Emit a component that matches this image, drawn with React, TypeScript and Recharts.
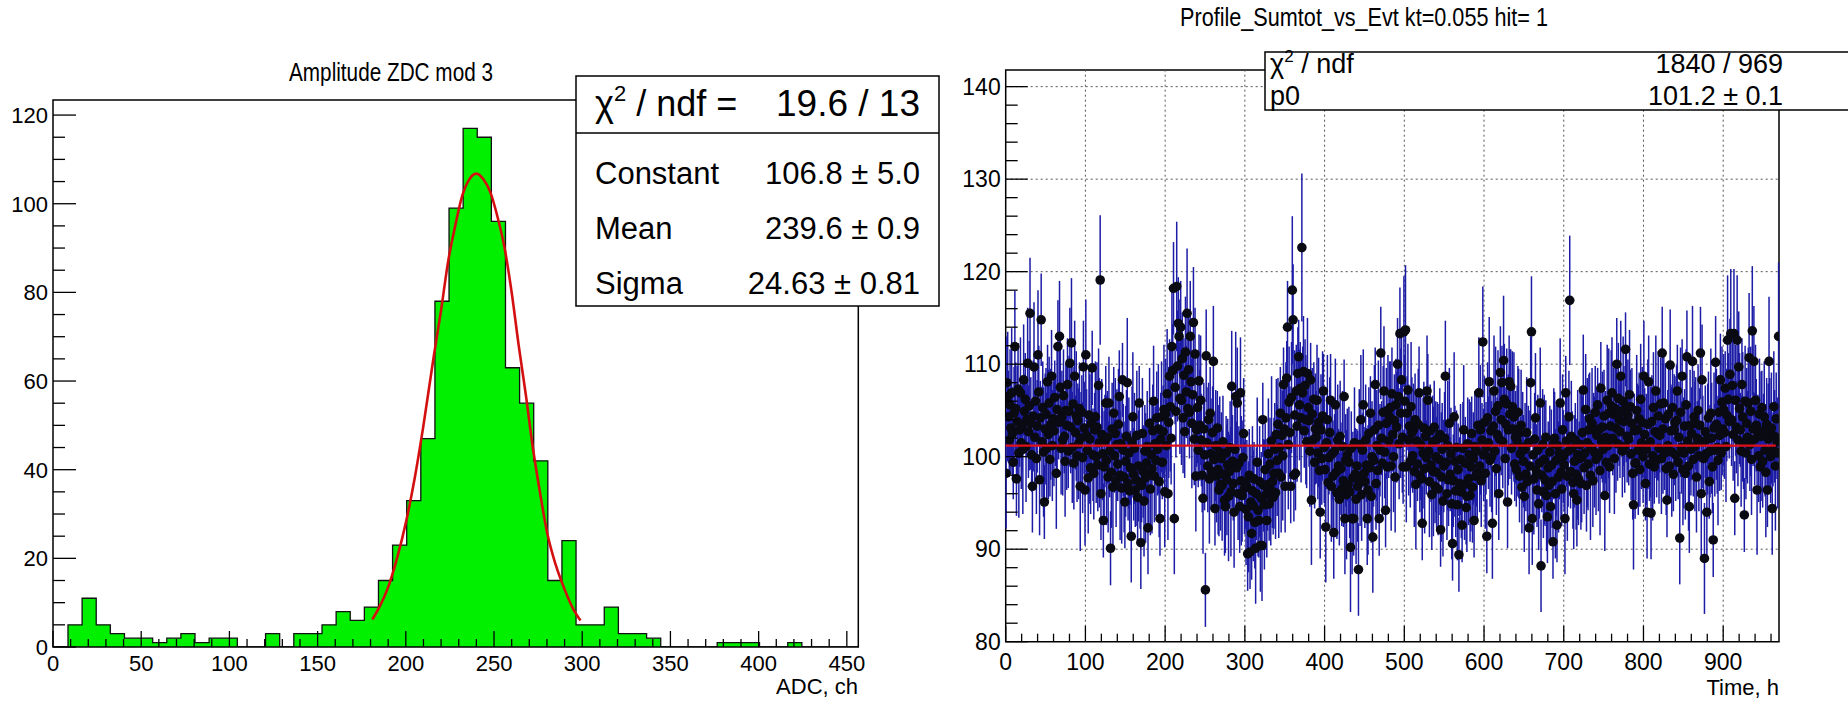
import React from "react";
import {
  ComposedChart,
  Area,
  Line,
  Scatter,
  ErrorBar,
  XAxis,
  YAxis,
  ReferenceLine,
  ReferenceArea,
} from "recharts";

const FONT = "'Liberation Sans', Arial, Helvetica, sans-serif";

// ---- left pad: Amplitude ZDC mod 3 ----
const ZDC_BIN_START = 0.5;
const ZDC_BIN_WIDTH = 8;
const ZDC_COUNTS = [
  0, 5, 11, 5, 3, 2, 2, 1, 2, 3,
  1, 2, 2, 0, 0, 3, 0, 3, 3, 5,
  8, 6, 9, 15, 23, 33, 47, 78, 99, 117,
  115, 96, 63, 55, 42, 15, 24, 5, 5, 9,
  3, 3, 2, 0, 0, 0, 0, 1, 1, 1,
  0, 0, 1, 0, 0, 0, 0,
];
// red gaussian fit curve
const FIT_X = [181, 185, 190, 195, 200, 205, 210, 216, 220, 224, 228, 232, 236, 240, 244, 248, 252, 256, 260, 264, 268, 272, 276, 280, 285, 290, 295, 299];
const FIT_Y = [6.2, 9, 13.5, 20, 28, 38, 50, 66, 76, 87, 95, 101.8, 105.5, 106.8, 105.5, 102.5, 97, 90, 80, 68, 57, 45, 35, 26, 18.5, 13, 8.5, 6];
const LEFT_X_TICKS = [0, 10, 20, 30, 40, 50, 60, 70, 80, 90, 100, 110, 120, 130, 140, 150, 160, 170, 180, 190, 200, 210, 220, 230, 240, 250, 260, 270, 280, 290, 300, 310, 320, 330, 340, 350, 360, 370, 380, 390, 400, 410, 420, 430, 440, 450];
const LEFT_Y_TICKS = [0, 5, 10, 15, 20, 25, 30, 35, 40, 45, 50, 55, 60, 65, 70, 75, 80, 85, 90, 95, 100, 105, 110, 115, 120];
const LEFT_STATS = [
  ["Constant", "106.8 \u00b1 5.0"],
  ["Mean", "239.6 \u00b1 0.9"],
  ["Sigma", "24.63 \u00b1 0.81"],
];

// ---- right pad: Profile_Sumtot_vs_Evt ----
const PROFILE = [
  98.2, 108.0, 106.5, 104.3, 101.8, 105.6, 103.1, 106.9, 102.5, 99.4,
  104.7, 111.9, 105.2, 97.6, 103.8, 107.3, 100.4, 102.9, 106.9, 101.5,
  103.4, 100.8, 108.3, 104.9, 106.2, 101.1, 104.0, 110.1, 102.7, 105.5,
  115.5, 103.6, 100.2, 96.8, 104.4, 109.7, 102.1, 106.0, 99.8, 103.3,
  111.0, 107.0, 97.5, 104.2, 114.8, 101.6, 105.3, 100.5, 95.1, 103.0,
  104.6, 100.9, 108.1, 102.4, 105.8, 99.7, 103.5, 108.7, 101.2, 104.1,
  102.8, 106.4, 104.0, 98.2, 105.1, 111.9, 103.7, 113.0, 107.5, 100.9,
  104.3, 101.8, 106.6, 102.2, 99.5, 105.0, 103.4, 107.8, 100.6, 104.9,
  110.1, 103.2, 112.3, 101.0, 105.7, 99.3, 108.7, 102.6, 104.4, 100.1,
  103.9, 101.4, 105.2, 96.8, 102.0, 104.8, 99.9, 109.7, 103.1, 96.4,
  111.0, 102.3, 100.7, 97.7, 104.5, 101.9, 98.8, 103.6, 109.6, 100.2,
  98.2, 102.9, 104.3, 100.0, 103.2, 99.1, 107.7, 101.5, 119.1, 96.0,
  102.4, 100.3, 93.1, 98.9, 101.7, 105.8, 99.6, 102.1, 97.8, 105.8,
  100.6, 90.1, 98.3, 103.0, 96.7, 104.7, 100.1, 102.5, 97.4, 101.3,
  99.2, 103.5, 106.5, 98.0, 101.4, 96.6, 108.3, 100.7, 97.8, 95.1,
  99.5, 102.2, 108.0, 97.1, 100.4, 96.3, 98.8, 91.4, 101.6, 104.3,
  98.1, 100.9, 96.4, 97.5, 102.3, 95.6, 99.0, 105.8, 97.2, 90.7,
  96.9, 102.5, 98.4, 95.2, 100.6, 97.7, 99.3, 101.1, 92.3, 98.0,
  103.6, 96.5, 100.2, 98.7, 102.8, 106.0, 97.9, 101.4, 99.6, 104.2,
  100.8, 103.0, 97.3, 93.3, 101.9, 104.3, 99.4, 102.7, 105.1, 96.2,
  104.6, 101.2, 106.8, 96.0, 103.7, 108.7, 105.4, 102.0, 111.9, 109.3,
  118.2, 93.3, 107.5, 104.9, 118.4, 109.8, 114.4, 113.0, 106.3, 114.0,
  106.1, 110.6, 104.2, 108.8, 102.7, 111.3, 107.0, 115.5, 105.2, 109.4,
  104.8, 113.0, 108.1, 103.6, 106.7, 114.5, 101.9, 111.1, 97.9, 102.9,
  105.3, 100.7, 108.2, 103.4, 106.1, 101.8, 98.0, 95.5, 103.0, 100.2,
  85.6, 110.9, 101.5, 99.0, 104.0, 97.6, 104.7, 100.3, 98.4, 102.6,
  110.3, 99.7, 94.4, 101.2, 97.9, 103.1, 98.6, 96.4, 100.5, 97.0,
  99.8, 96.9, 101.6, 98.1, 95.3, 94.6, 100.4, 97.5, 99.1, 95.7,
  98.4, 101.0, 96.2, 107.6, 99.5, 97.1, 94.0, 100.8, 106.5, 98.8,
  105.8, 96.0, 99.3, 94.6, 106.9, 97.4, 95.8, 99.9, 102.5, 96.6,
  97.2, 94.3, 96.8, 89.5, 93.5, 98.0, 89.7, 95.1, 91.7, 96.3,
  94.7, 97.6, 92.9, 90.1, 96.0, 99.4, 94.2, 93.1, 97.3, 90.4,
  95.5, 90.4, 104.0, 96.9, 94.8, 98.6, 95.9, 93.1, 97.0, 100.3,
  94.9, 99.2, 96.4, 101.7, 97.3, 95.6, 98.2, 100.8, 96.1, 102.4,
  99.6, 103.5, 98.2, 101.0, 104.7, 97.8, 102.3, 100.1, 107.8, 103.0,
  96.8, 104.2, 108.5, 114.0, 101.3, 105.9, 102.6, 96.8, 106.4, 118.0,
  114.8, 98.0, 104.5, 98.2, 107.1, 103.3, 109.0, 110.8, 105.6, 107.4,
  104.2, 122.6, 106.9, 109.2, 102.8, 107.7, 104.0, 101.6, 109.0, 105.3,
  103.9, 100.6, 108.3, 95.3, 104.6, 101.8, 106.2, 99.4, 103.0, 102.1,
  106.1, 100.4, 103.7, 98.5, 94.0, 102.9, 99.8, 104.4, 107.1, 101.0,
  98.6, 92.4, 101.5, 104.0, 97.2, 99.9, 102.6, 106.1, 96.8, 100.3,
  97.9, 91.8, 100.6, 105.6, 98.3, 96.1, 101.8, 99.0, 95.4, 102.2,
  98.7, 96.5, 101.1, 97.4, 106.5, 93.3, 99.6, 95.9, 100.2, 97.0,
  99.4, 96.2, 90.2, 100.9, 93.3, 97.7, 93.3, 101.5, 98.1, 95.4,
  99.0, 96.8, 87.8, 101.3, 97.5, 104.0, 95.9, 100.7, 105.6, 98.2,
  97.3, 101.8, 99.1, 93.3, 96.4, 102.5, 98.8, 104.7, 95.7, 100.0,
  91.3, 99.6, 102.9, 107.8, 97.1, 101.2, 98.5, 103.4, 93.3, 100.7,
  111.2, 102.0, 99.3, 104.8, 107.1, 100.5, 94.2, 103.6, 98.9, 105.0,
  101.7, 104.3, 105.3, 99.0, 106.8, 102.4, 100.0, 103.9, 97.8, 105.6,
  103.2, 110.0, 106.5, 101.4, 113.3, 104.7, 108.3, 102.1, 98.9, 113.5,
  106.0, 113.7, 98.9, 104.7, 107.2, 101.8, 103.3, 99.5, 105.4, 102.6,
  100.1, 102.9, 98.4, 104.0, 97.0, 101.7, 99.2, 103.5, 106.9, 98.0,
  101.3, 97.6, 92.8, 100.4, 103.1, 98.7, 102.2, 99.9, 107.1, 106.1,
  100.6, 97.3, 102.8, 99.1, 95.9, 101.6, 98.4, 103.2, 96.8, 100.0,
  98.3, 101.9, 96.5, 99.7, 102.4, 92.1, 97.8, 100.8, 95.2, 99.0,
  102.0, 108.7, 99.4, 96.0, 101.2, 97.5, 103.6, 98.1, 100.3, 94.9,
  90.6, 97.4, 104.3, 99.5, 96.3, 101.0, 94.8, 98.6, 89.4, 97.1,
  99.7, 96.2, 92.6, 100.9, 102.9, 97.0, 99.3, 94.5, 95.7, 101.4,
  97.6, 100.2, 95.8, 98.9, 102.5, 96.7, 99.8, 93.1, 101.1, 97.9,
  100.6, 98.2, 103.4, 106.9, 99.0, 102.9, 97.4, 101.8, 112.4, 100.2,
  103.7, 98.2, 100.9, 91.4, 104.2, 101.5, 108.1, 99.6, 102.8, 100.0,
  92.8, 103.3, 107.1, 100.6, 104.9, 98.7, 102.4, 105.5, 96.0, 101.9,
  109.1, 104.0, 108.0, 101.6, 110.4, 106.2, 99.8, 103.5, 105.7, 95.1,
  102.9, 108.1, 104.6, 107.6, 100.9, 105.4, 103.0, 104.3, 99.2, 102.1,
  98.6, 101.7, 104.8, 102.5, 97.9, 100.3, 103.4, 96.7, 101.0, 99.5,
  95.7, 100.8, 98.1, 102.6, 97.3, 101.5, 92.3, 99.0, 108.0, 113.5,
  93.3, 100.2, 97.6, 101.9, 104.2, 98.5, 96.4, 100.7, 94.9, 99.3,
  105.8, 88.2, 98.0, 101.3, 96.2, 99.7, 97.5, 102.1, 95.8, 93.5,
  98.8, 96.9, 100.5, 94.6, 99.1, 97.3, 90.8, 101.4, 102.0, 96.0,
  99.6, 92.6, 101.2, 97.8, 100.4, 105.8, 98.3, 96.5, 102.9, 100.0,
  99.1, 93.3, 106.9, 101.7, 97.9, 100.6, 104.3, 116.9, 98.4, 102.2,
  100.9, 97.2, 96.0, 99.5, 101.8, 98.1, 95.3, 100.2, 97.6, 99.8,
  101.3, 97.1, 99.9, 102.6, 107.2, 98.8, 100.4, 105.1, 96.9, 101.5,
  99.2, 102.9, 104.1, 98.0, 101.0, 103.6, 97.4, 102.9, 100.5, 104.8,
  99.7, 102.3, 105.6, 100.1, 103.0, 98.5, 107.4, 101.6, 103.2, 100.8,
  104.4, 95.8, 102.1, 99.4, 106.1, 101.2, 104.7, 98.9, 103.3, 105.5,
  106.9, 102.0, 104.6, 99.8, 105.2, 103.1, 110.0, 101.4, 106.3, 104.0,
  102.7, 108.7, 104.9, 100.6, 106.0, 103.8, 101.1, 111.6, 105.4, 102.2,
  104.5, 101.9, 106.7, 105.4, 100.3, 103.6, 98.2, 94.8, 102.8, 99.3,
  99.3, 105.0, 102.9, 100.7, 104.1, 98.6, 106.2, 101.5, 103.7, 100.0,
  108.7, 102.4, 97.1, 100.8, 94.0, 103.5, 108.1, 99.2, 101.6, 93.9,
  103.8, 100.1, 105.3, 98.9, 102.7, 107.1, 99.6, 102.5, 104.4, 100.9,
  102.3, 105.7, 99.8, 111.2, 103.0, 105.8, 100.4, 104.1, 98.7, 95.3,
  101.2, 104.6, 99.0, 109.9, 102.8, 100.5, 105.3, 98.1, 102.9, 103.7,
  100.2, 103.9, 107.1, 99.4, 102.1, 91.2, 104.8, 101.0, 108.7, 98.6,
  100.4, 103.3, 98.2, 105.6, 110.8, 101.7, 99.0, 94.6, 103.4, 100.8,
  102.5, 110.3, 99.7, 104.3, 101.1, 103.6, 97.8, 102.0, 105.0, 100.1,
  103.4, 111.2, 96.0, 108.3, 101.6, 99.8, 89.0, 102.7, 100.3, 94.0,
  101.9, 104.2, 97.3, 100.6, 104.7, 102.0, 98.9, 91.0, 103.1, 100.7,
  110.2, 103.5, 101.0, 99.6, 104.8, 102.3, 108.3, 100.4, 105.9, 103.0,
  105.1, 102.6, 107.4, 101.1, 104.5, 112.6, 106.2, 103.8, 108.9, 113.3,
  104.0, 107.7, 102.4, 113.3, 95.5, 106.1, 103.2, 112.6, 101.8, 109.7,
  105.2, 102.9, 100.6, 107.8, 104.3, 101.5, 93.7, 106.0, 100.4, 103.6,
  102.1, 105.8, 110.7, 101.3, 104.9, 99.7, 113.6, 103.0, 110.3, 101.9,
  106.1, 103.4, 96.4, 102.7, 100.1, 104.6, 98.9, 102.2, 105.3, 99.5,
  102.8, 104.3, 100.7, 98.3, 103.5, 96.4, 101.9, 110.3, 102.5, 100.0,
  103.1, 94.4, 100.8, 105.4, 102.2, 99.0, 104.1, 101.6, 100.4, 113.0,
];
const PROFILE_ERR = [
  6, 5, 7, 5, 4, 6, 5, 7, 5, 4, 5, 6, 5, 4, 6, 5, 7, 4, 6, 5,
  5, 7, 6, 4, 5, 6, 4, 6, 5, 7, 6, 5, 4, 5, 6, 7, 5, 4, 6, 5,
  7, 5, 6, 4, 5, 6, 5, 7, 4, 6, 5, 6, 4, 7, 5, 4, 6, 5, 6, 4,
  6, 4, 5, 6, 7, 5, 4, 6, 5, 5, 5, 6, 5, 4, 6, 5, 7, 5, 4, 6,
  6, 5, 7, 6, 4, 5, 6, 4, 7, 5, 4, 6, 5, 7, 5, 4, 6, 5, 5, 6,
  6, 5, 4, 6, 5, 7, 5, 6, 4, 5, 5, 4, 6, 5, 7, 5, 4, 7, 7, 5,
  6, 5, 4, 6, 5, 4, 7, 5, 6, 5, 5, 4, 6, 5, 7, 5, 4, 6, 5, 6,
  4, 6, 5, 7, 5, 6, 4, 5, 6, 5, 6, 5, 7, 4, 6, 5, 4, 5, 6, 7,
  5, 6, 4, 5, 7, 5, 6, 4, 5, 5, 4, 6, 5, 6, 5, 7, 4, 6, 5, 6,
  6, 5, 4, 7, 5, 6, 5, 4, 6, 5, 5, 7, 6, 4, 5, 6, 4, 5, 7, 6,
  6, 5, 7, 5, 6, 4, 7, 5, 6, 5, 5, 6, 4, 5, 7, 6, 5, 4, 6, 5,
  7, 5, 6, 4, 5, 6, 5, 7, 4, 6, 5, 6, 5, 7, 4, 6, 5, 5, 6, 4,
  6, 4, 5, 6, 7, 5, 4, 6, 5, 6, 4, 5, 6, 5, 4, 7, 5, 6, 4, 5,
  6, 5, 4, 6, 5, 4, 7, 5, 6, 5, 5, 6, 5, 4, 6, 5, 4, 6, 5, 7,
  4, 5, 7, 6, 5, 4, 6, 5, 7, 5, 6, 5, 4, 5, 6, 7, 5, 4, 6, 5,
  5, 6, 5, 4, 6, 5, 4, 6, 5, 7, 6, 4, 5, 6, 5, 7, 5, 4, 6, 5,
  5, 6, 4, 5, 7, 5, 6, 4, 5, 6, 4, 5, 6, 7, 5, 4, 6, 5, 5, 6,
  6, 5, 7, 4, 5, 6, 5, 7, 4, 5, 5, 6, 4, 5, 7, 6, 5, 4, 6, 8,
  6, 5, 7, 4, 5, 6, 5, 4, 6, 5, 7, 8, 5, 6, 4, 5, 7, 5, 6, 4,
  5, 6, 4, 7, 5, 6, 4, 5, 6, 5, 6, 5, 7, 4, 5, 6, 5, 7, 4, 6,
  4, 6, 5, 7, 5, 4, 6, 5, 6, 5, 6, 5, 4, 5, 7, 5, 6, 4, 5, 6,
  5, 4, 6, 5, 4, 6, 5, 7, 5, 4, 6, 5, 7, 4, 6, 5, 4, 6, 5, 7,
  4, 6, 5, 6, 5, 7, 5, 4, 6, 5, 5, 6, 4, 5, 7, 5, 6, 4, 5, 6,
  6, 5, 7, 4, 5, 6, 5, 7, 4, 5, 5, 4, 6, 5, 7, 5, 4, 6, 5, 6,
  4, 6, 5, 7, 5, 4, 6, 5, 6, 5, 6, 5, 4, 6, 5, 7, 5, 6, 4, 6,
  5, 7, 6, 4, 5, 6, 4, 5, 7, 6, 4, 5, 6, 5, 7, 5, 4, 6, 5, 4,
  6, 5, 4, 6, 5, 7, 5, 4, 6, 5, 5, 6, 5, 4, 6, 5, 7, 5, 4, 6,
  6, 4, 5, 6, 5, 4, 7, 5, 6, 5, 5, 6, 4, 5, 7, 5, 6, 4, 5, 6,
  4, 5, 7, 6, 5, 4, 6, 5, 4, 5, 6, 5, 4, 5, 7, 6, 5, 4, 6, 5,
  5, 6, 5, 7, 4, 6, 5, 4, 6, 5, 6, 5, 4, 6, 5, 7, 5, 4, 6, 5,
  5, 6, 5, 4, 6, 5, 7, 5, 4, 6, 6, 4, 6, 5, 7, 5, 4, 6, 5, 6,
  5, 6, 4, 5, 7, 6, 5, 4, 6, 5, 6, 5, 7, 4, 5, 6, 5, 7, 4, 5,
  4, 6, 5, 7, 5, 4, 6, 5, 6, 5, 6, 5, 4, 6, 5, 4, 5, 6, 5, 6,
  5, 4, 6, 5, 7, 5, 4, 6, 5, 6, 6, 5, 4, 6, 5, 7, 5, 4, 6, 5,
  5, 6, 5, 4, 6, 5, 4, 6, 5, 7, 6, 4, 5, 6, 5, 7, 5, 4, 6, 5,
  5, 6, 4, 5, 7, 6, 5, 7, 4, 6, 4, 5, 6, 5, 4, 6, 5, 7, 5, 4,
  6, 5, 7, 4, 6, 5, 4, 6, 5, 7, 5, 6, 5, 7, 4, 6, 5, 4, 6, 5,
  6, 5, 4, 6, 5, 7, 5, 4, 6, 5, 5, 6, 5, 4, 6, 5, 7, 5, 4, 6,
  6, 4, 5, 6, 5, 7, 5, 4, 6, 5, 5, 6, 4, 5, 7, 6, 5, 4, 6, 5,
  6, 5, 7, 4, 5, 6, 5, 7, 4, 6, 4, 6, 5, 7, 5, 4, 6, 5, 6, 5,
  6, 5, 4, 6, 5, 7, 5, 4, 6, 5, 5, 7, 6, 4, 5, 6, 4, 5, 7, 6,
  4, 5, 6, 5, 7, 5, 4, 6, 5, 4, 6, 5, 4, 6, 5, 7, 5, 4, 6, 5,
  5, 6, 5, 4, 6, 5, 7, 5, 4, 6, 6, 4, 5, 6, 5, 4, 7, 5, 6, 5,
  5, 6, 4, 5, 7, 5, 6, 4, 5, 6, 4, 5, 7, 6, 5, 4, 6, 5, 4, 5,
  6, 5, 4, 5, 7, 6, 5, 4, 6, 5, 5, 6, 5, 7, 4, 6, 5, 4, 6, 5,
  6, 5, 4, 6, 5, 7, 5, 4, 6, 7, 5, 6, 5, 7, 4, 6, 5, 7, 5, 6,
  6, 4, 6, 5, 7, 5, 4, 6, 5, 6, 5, 6, 7, 5, 7, 6, 7, 4, 6, 5,
  6, 5, 7, 4, 5, 6, 5, 7, 4, 5, 4, 6, 5, 7, 5, 4, 6, 7, 6, 5,
  6, 5, 4, 6, 5, 7, 5, 4, 6, 8,
];
const P0_FIT = 101.2;
const RIGHT_X_TICKS = [0, 20, 40, 60, 80, 100, 120, 140, 160, 180, 200, 220, 240, 260, 280, 300, 320, 340, 360, 380, 400, 420, 440, 460, 480, 500, 520, 540, 560, 580, 600, 620, 640, 660, 680, 700, 720, 740, 760, 780, 800, 820, 840, 860, 880, 900, 920, 940, 960];
const RIGHT_Y_TICKS = [80, 82, 84, 86, 88, 90, 92, 94, 96, 98, 100, 102, 104, 106, 108, 110, 112, 114, 116, 118, 120, 122, 124, 126, 128, 130, 132, 134, 136, 138, 140];
const RIGHT_X_GRID = [100, 200, 300, 400, 500, 600, 700, 800, 900];
const RIGHT_Y_GRID = [90, 100, 110, 120, 130, 140];
const RIGHT_STATS = [["p0", "101.2 \u00b1 0.1"]];

const histData = ZDC_COUNTS.map((c, i) => ({ x: ZDC_BIN_START + i * ZDC_BIN_WIDTH, y: c })).concat([
  { x: ZDC_BIN_START + ZDC_COUNTS.length * ZDC_BIN_WIDTH, y: 0 },
]);
const fitData = FIT_X.map((x, i) => ({ x, y: FIT_Y[i] }));
const profileData = PROFILE.map((v, i) => ({ x: i + 0.5, y: v, e: PROFILE_ERR[i] }));

// right pad geometry, shared by the data chart and the fit-line overlay
const R_W = 924;
const R_H = 703;
const R_TOP = 70;
const R_RIGHT = 69;
const R_YAXIS_W = 81.7;
const R_XAXIS_H = 61.3;
const R_XDOM: [number, number] = [0, 970];
const R_YDOM: [number, number] = [80, 141.8];

function LeftXTick(props: any) {
  const { x, y, payload } = props;
  const v = payload.value;
  const major = v % 50 === 0;
  return (
    <g>
      <line x1={x} x2={x} y1={y} y2={y - (major ? 16 : 8)} stroke="#000" strokeWidth={1.3} />
      {major && (
        <text x={x} y={y + 24} textAnchor="middle" fontSize={22} fontFamily={FONT} fill="#000">
          {v}
        </text>
      )}
    </g>
  );
}

function LeftYTick(props: any) {
  const { x, y, payload } = props;
  const v = payload.value;
  const major = v % 20 === 0;
  return (
    <g>
      <line x1={x} x2={x + (major ? 23 : 12)} y1={y} y2={y} stroke="#000" strokeWidth={1.3} />
      {major && (
        <text x={x - 5} y={y + 8} textAnchor="end" fontSize={22} fontFamily={FONT} fill="#000">
          {v}
        </text>
      )}
    </g>
  );
}

function RightXTick(props: any) {
  const { x, y, payload } = props;
  const v = payload.value;
  const major = v % 100 === 0;
  return (
    <g>
      <line x1={x} x2={x} y1={y} y2={y - (major ? 16 : 8)} stroke="#000" strokeWidth={1.3} />
      {major && (
        <text x={x} y={y + 28} textAnchor="middle" fontSize={23} fontFamily={FONT} fill="#000">
          {v}
        </text>
      )}
    </g>
  );
}

function RightYTick(props: any) {
  const { x, y, payload } = props;
  const v = payload.value;
  const major = v % 10 === 0;
  return (
    <g>
      <line x1={x} x2={x + (major ? 22 : 12)} y1={y} y2={y} stroke="#000" strokeWidth={1.3} />
      {major && (
        <text x={x - 5} y={y + 8} textAnchor="end" fontSize={23} fontFamily={FONT} fill="#000">
          {v}
        </text>
      )}
    </g>
  );
}

const dot = (p: any) => <circle cx={p.cx} cy={p.cy} r={4.8} fill="#0a0a12" />;

export default function App() {
  return (
    <div
      style={{
        position: "absolute",
        left: 0,
        top: 0,
        width: 1848,
        height: 703,
        background: "#fff",
        overflow: "hidden",
        fontFamily: FONT,
      }}
    >
      <div style={{ position: "absolute", left: 0, top: 0 }}>
        <ComposedChart width={870} height={703} data={histData} margin={{ top: 100, right: 11.7, bottom: 0, left: 0 }}>
          <XAxis
            type="number"
            dataKey="x"
            domain={[0, 456.5]}
            ticks={LEFT_X_TICKS}
            interval={0}
            height={56}
            tickSize={0}
            tickMargin={0}
            tickLine={false}
            axisLine={false}
            tick={(p: any) => <LeftXTick {...p} />}
            allowDataOverflow
          />
          <YAxis
            type="number"
            domain={[0, 123.4]}
            ticks={LEFT_Y_TICKS}
            interval={0}
            width={53}
            tickSize={0}
            tickMargin={0}
            tickLine={false}
            axisLine={false}
            tick={(p: any) => <LeftYTick {...p} />}
            allowDataOverflow
          />
          <Area
            type="stepAfter"
            dataKey="y"
            baseValue={0}
            stroke="#111"
            strokeWidth={1.3}
            fill="#00f000"
            fillOpacity={1}
            dot={false}
            activeDot={false}
            isAnimationActive={false}
          />
          <Line
            data={fitData}
            dataKey="y"
            type="monotone"
            stroke="#d40f0f"
            strokeWidth={2.6}
            dot={false}
            activeDot={false}
            isAnimationActive={false}
          />
          <ReferenceArea x1={0} x2={456.5} y1={0} y2={123.4} fill="none" stroke="#000" strokeWidth={1.5} ifOverflow="visible" />
        </ComposedChart>
      </div>

      <div style={{ position: "absolute", left: 924, top: 0 }}>
        <ComposedChart width={R_W} height={R_H} margin={{ top: R_TOP, right: R_RIGHT, bottom: 0, left: 0 }}>
          <XAxis
            type="number"
            dataKey="x"
            domain={R_XDOM}
            ticks={RIGHT_X_TICKS}
            interval={0}
            height={R_XAXIS_H}
            tickSize={0}
            tickMargin={0}
            tickLine={false}
            axisLine={false}
            tick={(p: any) => <RightXTick {...p} />}
            allowDataOverflow
          />
          <YAxis
            type="number"
            dataKey="y"
            domain={R_YDOM}
            ticks={RIGHT_Y_TICKS}
            interval={0}
            width={R_YAXIS_W}
            tickSize={0}
            tickMargin={0}
            tickLine={false}
            axisLine={false}
            tick={(p: any) => <RightYTick {...p} />}
            allowDataOverflow
          />
          {RIGHT_X_GRID.map((g) => (
            <ReferenceLine key={"gx" + g} x={g} stroke="#555" strokeWidth={1} strokeDasharray="2 3" />
          ))}
          {RIGHT_Y_GRID.map((g) => (
            <ReferenceLine key={"gy" + g} y={g} stroke="#555" strokeWidth={1} strokeDasharray="2 3" />
          ))}
          <Scatter data={profileData} shape={dot} isAnimationActive={false}>
            <ErrorBar dataKey="e" direction="y" width={0} stroke="#1c1ca6" strokeWidth={1.5} />
          </Scatter>
          <ReferenceArea x1={0} x2={970} y1={80} y2={141.8} fill="none" stroke="#000" strokeWidth={1.5} ifOverflow="visible" />
        </ComposedChart>
      </div>

      {/* fit line drawn on top of the markers, same scales as the right pad */}
      <div style={{ position: "absolute", left: 924, top: 0, pointerEvents: "none" }}>
        <ComposedChart
          width={R_W}
          height={R_H}
          margin={{ top: R_TOP, right: R_RIGHT, bottom: R_XAXIS_H, left: R_YAXIS_W }}
        >
          <XAxis type="number" dataKey="x" domain={R_XDOM} hide allowDataOverflow />
          <YAxis type="number" domain={R_YDOM} hide allowDataOverflow />
          <ReferenceLine
            segment={[
              { x: 0, y: P0_FIT },
              { x: 966, y: P0_FIT },
            ]}
            stroke="#e0101a"
            strokeWidth={2.4}
            ifOverflow="visible"
          />
        </ComposedChart>
      </div>

      <svg
        width={1848}
        height={703}
        style={{ position: "absolute", left: 0, top: 0, pointerEvents: "none" }}
        fontFamily={FONT}
      >
        <text x={391} y={81} textAnchor="middle" fontSize={25} textLength={204} lengthAdjust="spacingAndGlyphs" fill="#000">
          Amplitude ZDC mod 3
        </text>
        <text x={1364} y={26} textAnchor="middle" fontSize={26} textLength={368} lengthAdjust="spacingAndGlyphs" fill="#000">
          Profile_Sumtot_vs_Evt kt=0.055 hit= 1
        </text>
        <text x={858} y={694} textAnchor="end" fontSize={22} fill="#000">
          ADC, ch
        </text>
        <text x={1779} y={695} textAnchor="end" fontSize={22} fill="#000">
          Time, h
        </text>

        <rect x={576} y={76} width={363} height={230} fill="#fff" stroke="#000" strokeWidth={1.5} />
        <line x1={576} x2={939} y1={133} y2={133} stroke="#000" strokeWidth={1.5} />
        <text x={595} y={116} fontSize={36} fill="#000">
          {"\u03c7"}
          <tspan fontSize={22} dy={-15}>2</tspan>
          <tspan dy={15}>{" / ndf ="}</tspan>
        </text>
        <text x={920} y={116} textAnchor="end" fontSize={37} fill="#000">
          19.6 / 13
        </text>
        {LEFT_STATS.map(([k, v], i) => (
          <g key={k}>
            <text x={595} y={184 + i * 55} fontSize={31} fill="#000">
              {k}
            </text>
            <text x={920} y={184 + i * 55} textAnchor="end" fontSize={31} fill="#000">
              {v}
            </text>
          </g>
        ))}

        <rect x={1265} y={52} width={640} height={58} fill="#fff" stroke="#000" strokeWidth={1.5} />
        <text x={1270} y={73} fontSize={27} fill="#000">
          {"\u03c7"}
          <tspan fontSize={17} dy={-11}>2</tspan>
          <tspan dy={11}>{" / ndf"}</tspan>
        </text>
        <text x={1783} y={73} textAnchor="end" fontSize={27} fill="#000">
          1840 / 969
        </text>
        {RIGHT_STATS.map(([k, v]) => (
          <g key={k}>
            <text x={1270} y={105} fontSize={27} fill="#000">
              {k}
            </text>
            <text x={1783} y={105} textAnchor="end" fontSize={27} fill="#000">
              {v}
            </text>
          </g>
        ))}
      </svg>
    </div>
  );
}
